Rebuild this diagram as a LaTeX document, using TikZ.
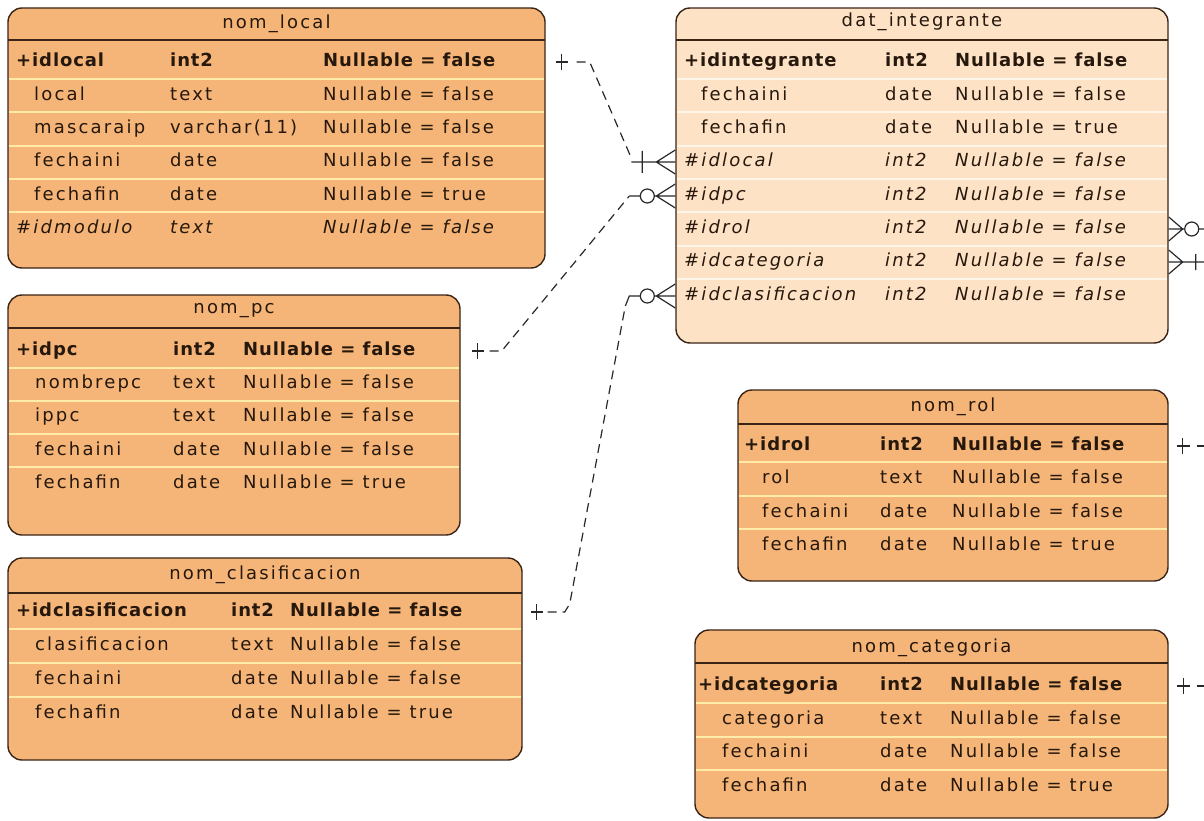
\documentclass[tikz,border=0pt]{standalone}
\usepackage{fontspec}
\setmainfont{DejaVu Sans}[LetterSpace=12, BoldFeatures={LetterSpace=5}]
\usepackage{xcolor}
\usetikzlibrary{calc}

\definecolor{naranja}{RGB}{245,181,120}
\definecolor{durazno}{RGB}{253,226,198}
\definecolor{borde}{RGB}{58,36,22}
\definecolor{raya}{RGB}{255,236,168}
\definecolor{rayaclara}{RGB}{255,246,234}
\definecolor{tinta}{RGB}{38,24,12}
\definecolor{linea}{RGB}{40,40,40}

\newcommand{\letra}{\fontsize{18}{21}\selectfont}

\begin{document}
\begin{tikzpicture}[x=1pt, y=-1pt,
    tabla/.style={draw=borde, line width=1.4pt, rounded corners=14pt, inner sep=0pt},
    titulo/.style={font=\letra, text=tinta, inner sep=0pt},
    campo/.style={text=tinta, anchor=west, inner sep=0pt, text height=13pt, text depth=4pt},
    pk/.style={campo, font=\letra\bfseries},
    nn/.style={campo, font=\letra},
    fk/.style={campo, font=\letra\itshape},
    cabecera/.style={draw=borde, line width=1.4pt},
    separador/.style={draw=raya, line width=1.5pt},
    conector/.style={draw=linea, dash pattern=on 9pt off 6pt, line width=1.2pt},
    marca/.style={draw=linea, line width=1.2pt}]
        \useasboundingbox (0,0) rectangle (1204,821);

        % nom_local
        \node[tabla, fill=naranja, minimum width=537pt, minimum height=260pt] (local) at (276.5,138) {};
        \foreach \y in {79,112,146,179,212} \draw[separador] (9,\y) -- (544,\y);
        \draw[cabecera] (8,40) -- (545,40);
        \node[titulo] (local-t) at (276.5,24) {nom\_local};
        \foreach \y/\estilo/\xa/\campo/\tipo/\nulo [count=\i] in {
            62/pk/16/+idlocal/int2/Nullable = false,
            96/nn/34/local/text/Nullable = false,
            129/nn/34/mascaraip/varchar(11)/Nullable = false,
            162/nn/34/fechaini/date/Nullable = false,
            196/nn/34/fechafin/date/Nullable = true,
            229/fk/16/\#idmodulo/text/Nullable = false} {
            \node[\estilo] (local-\i-a) at (\xa,\y) {\campo};
            \node[\estilo] (local-\i-b) at (170,\y) {\tipo};
            \node[\estilo] (local-\i-c) at (323,\y) {\nulo};
        }

        % nom_pc
        \node[tabla, fill=naranja, minimum width=452pt, minimum height=240pt] (pc) at (234,415) {};
        \foreach \y in {368,401,434,467} \draw[separador] (9,\y) -- (459,\y);
        \draw[cabecera] (8,328) -- (460,328);
        \node[titulo] (pc-t) at (234,311) {nom\_pc};
        \foreach \y/\estilo/\xa/\campo/\tipo/\nulo [count=\i] in {
            351/pk/16/+idpc/int2/Nullable = false,
            384/nn/35/nombrepc/text/Nullable = false,
            417/nn/35/ippc/text/Nullable = false,
            451/nn/35/fechaini/date/Nullable = false,
            484/nn/35/fechafin/date/Nullable = true} {
            \node[\estilo] (pc-\i-a) at (\xa,\y) {\campo};
            \node[\estilo] (pc-\i-b) at (173,\y) {\tipo};
            \node[\estilo] (pc-\i-c) at (243,\y) {\nulo};
        }

        % nom_clasificacion
        \node[tabla, fill=naranja, minimum width=514pt, minimum height=202pt] (clasif) at (265,659) {};
        \foreach \y in {629,663,697} \draw[separador] (9,\y) -- (521,\y);
        \draw[cabecera] (8,593) -- (522,593);
        \node[titulo] (clasif-t) at (265,575) {nom\_clasificacion};
        \foreach \y/\estilo/\xa/\campo/\tipo/\nulo [count=\i] in {
            612/pk/16/+idclasificacion/int2/Nullable = false,
            646/nn/35/clasificacion/text/Nullable = false,
            680/nn/35/fechaini/date/Nullable = false,
            714/nn/35/fechafin/date/Nullable = true} {
            \node[\estilo] (clasif-\i-a) at (\xa,\y) {\campo};
            \node[\estilo] (clasif-\i-b) at (231,\y) {\tipo};
            \node[\estilo] (clasif-\i-c) at (290,\y) {\nulo};
        }

        % dat_integrante
        \node[tabla, fill=durazno, minimum width=492pt, minimum height=335pt] (integ) at (922,175.5) {};
        \foreach \y in {79,112,146,179,212,246,279} \draw[separador, draw=rayaclara] (677,\y) -- (1167,\y);
        \draw[cabecera] (676,40) -- (1168,40);
        \node[titulo] (integ-t) at (922,22) {dat\_integrante};
        \foreach \y/\estilo/\xa/\campo/\tipo/\nulo [count=\i] in {
            62/pk/684/+idintegrante/int2/Nullable = false,
            96/nn/701/fechaini/date/Nullable = false,
            129/nn/701/fechafin/date/Nullable = true,
            162/fk/684/\#idlocal/int2/Nullable = false,
            196/fk/684/\#idpc/int2/Nullable = false,
            229/fk/684/\#idrol/int2/Nullable = false,
            262/fk/684/\#idcategoria/int2/Nullable = false,
            296/fk/684/\#idclasificacion/int2/Nullable = false} {
            \node[\estilo] (integ-\i-a) at (\xa,\y) {\campo};
            \node[\estilo] (integ-\i-b) at (885,\y) {\tipo};
            \node[\estilo] (integ-\i-c) at (955,\y) {\nulo};
        }

        % nom_rol
        \node[tabla, fill=naranja, minimum width=430pt, minimum height=191pt] (rol) at (953,485.5) {};
        \foreach \y in {462,496,529} \draw[separador] (739,\y) -- (1167,\y);
        \draw[cabecera] (738,424) -- (1168,424);
        \node[titulo] (rol-t) at (953,407) {nom\_rol};
        \foreach \y/\estilo/\xa/\campo/\tipo/\nulo [count=\i] in {
            446/pk/744/+idrol/int2/Nullable = false,
            479/nn/762/rol/text/Nullable = false,
            513/nn/762/fechaini/date/Nullable = false,
            546/nn/762/fechafin/date/Nullable = true} {
            \node[\estilo] (rol-\i-a) at (\xa,\y) {\campo};
            \node[\estilo] (rol-\i-b) at (880,\y) {\tipo};
            \node[\estilo] (rol-\i-c) at (952,\y) {\nulo};
        }

        % nom_categoria
        \node[tabla, fill=naranja, minimum width=473pt, minimum height=188pt] (categ) at (931.5,724) {};
        \foreach \y in {703,737,770} \draw[separador] (696,\y) -- (1167,\y);
        \draw[cabecera] (695,663) -- (1168,663);
        \node[titulo] (categ-t) at (931.5,648) {nom\_categoria};
        \foreach \y/\estilo/\xa/\campo/\tipo/\nulo [count=\i] in {
            686/pk/698/+idcategoria/int2/Nullable = false,
            720/nn/722/categoria/text/Nullable = false,
            753/nn/722/fechaini/date/Nullable = false,
            787/nn/722/fechafin/date/Nullable = true} {
            \node[\estilo] (categ-\i-a) at (\xa,\y) {\campo};
            \node[\estilo] (categ-\i-b) at (880,\y) {\tipo};
            \node[\estilo] (categ-\i-c) at (950,\y) {\nulo};
        }

        % nom_local -> dat_integrante
        \coordinate (a0) at (local.east |- local-1-a);
        \coordinate (a1) at (integ.west |- integ-4-a);
        \draw[marca] ($(a0)+(10,0)$) -- ($(a0)+(22,0)$) ($(a0)+(16,-8)$) -- ($(a0)+(16,8)$);
        \draw[conector] ($(a0)+(31,0)$) -- ($(a0)+(44,0)$) -- ($(a1)+(-44,-4)$);
        \draw[marca] ($(a1)+(-44,0)$) -- (a1) ($(a1)+(-33,-11)$) -- ($(a1)+(-33,11)$)
            ($(a1)+(0,-12)$) -- ($(a1)+(-19,0)$) -- ($(a1)+(0,12)$);

        % nom_pc -> dat_integrante
        \coordinate (b0) at (pc.east |- pc-1-a);
        \coordinate (b1) at (integ.west |- integ-5-a);
        \draw[marca] ($(b0)+(11,0)$) -- ($(b0)+(23,0)$) ($(b0)+(17,-8)$) -- ($(b0)+(17,8)$);
        \draw[conector] ($(b0)+(29,0)$) -- ($(b0)+(41,0)$) -- ($(b1)+(-46,0)$);
        \draw[marca] ($(b1)+(-46,0)$) -- ($(b1)+(-35,0)$) ($(b1)+(-28,0)$) circle[radius=7pt]
            ($(b1)+(-21,0)$) -- (b1) ($(b1)+(0,-12)$) -- ($(b1)+(-19,0)$) -- ($(b1)+(0,12)$);

        % nom_clasificacion -> dat_integrante
        \coordinate (c0) at (clasif.east |- clasif-1-a);
        \coordinate (c1) at (integ.west |- integ-8-a);
        \draw[marca] ($(c0)+(8,0)$) -- ($(c0)+(20,0)$) ($(c0)+(14,-8)$) -- ($(c0)+(14,8)$);
        \draw[conector] ($(c0)+(25,0)$) -- ($(c0)+(42,0)$) -- ($(c0)+(47,-8)$) -- ($(c1)+(-50,10)$);
        \draw[marca] ($(c1)+(-50,10)$) -- ($(c1)+(-46,0)$) -- ($(c1)+(-35,0)$) ($(c1)+(-28,0)$) circle[radius=7pt]
            ($(c1)+(-21,0)$) -- (c1) ($(c1)+(0,-12)$) -- ($(c1)+(-19,0)$) -- ($(c1)+(0,12)$);

        % dat_integrante -> nom_rol / nom_categoria (cortados)
        \coordinate (d0) at (integ.east |- integ-6-a);
        \coordinate (d1) at (1204,229);
        \draw[marca] ($(d0)+(0,-12)$) -- ($(d0)+(14,0)$) -- ($(d0)+(0,12)$) (d0) -- ($(d0)+(16,0)$)
            ($(d0)+(23,0)$) circle[radius=7pt] ($(d0)+(30,0)$) -- (d1);
        \coordinate (e0) at (integ.east |- integ-7-a);
        \coordinate (e1) at (1204,262);
        \draw[marca] ($(e0)+(0,-12)$) -- ($(e0)+(14,0)$) -- ($(e0)+(0,12)$) (e0) -- (e1)
            ($(e0)+(27,-8)$) -- ($(e0)+(27,8)$);
        \coordinate (f0) at (rol.east |- rol-1-a);
        \coordinate (f1) at (1204,446);
        \draw[marca] ($(f0)+(8,0)$) -- ($(f0)+(21,0)$) ($(f0)+(14,-8)$) -- ($(f0)+(14,8)$);
        \draw[conector] ($(f0)+(28,0)$) -- (f1);
        \coordinate (g0) at (categ.east |- categ-1-a);
        \coordinate (g1) at (1204,686);
        \draw[marca] ($(g0)+(8,0)$) -- ($(g0)+(21,0)$) ($(g0)+(15,-8)$) -- ($(g0)+(15,8)$);
        \draw[conector] ($(g0)+(28,0)$) -- (g1);

    \end{tikzpicture}
\end{document}
